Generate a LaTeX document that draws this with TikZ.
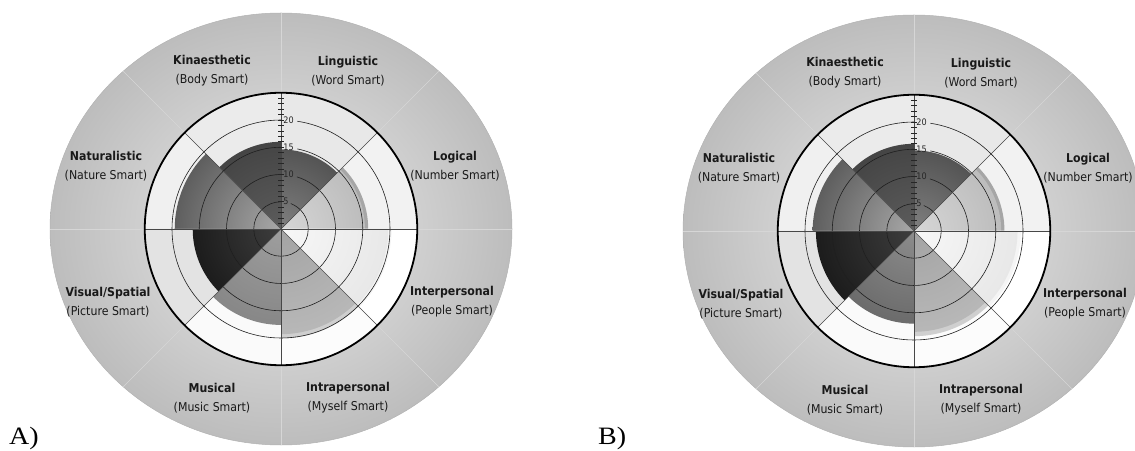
\documentclass[tikz,border=0pt]{standalone}
\usepackage{fontspec}
\setmainfont{DejaVu Sans}
\newfontfamily\labelfont[FakeStretch=0.9]{DejaVu Sans}
\newfontfamily\panelfont{Liberation Serif}

\tikzset{
  catlabel/.style={font=\labelfont\fontsize{12.2}{19}\selectfont, align=center, text=black!90, inner sep=0pt},
  ticklabel/.style={font=\labelfont\fontsize{9}{9}\selectfont, anchor=west, inner sep=0pt, text=black!85},
  gridline/.style={draw=black!88, line width=0.6pt},
  spoke/.style={draw=black!72, line width=0.6pt},
  tickline/.style={draw=black!85, line width=0.6pt},
  rimline/.style={draw=black, line width=1.8pt},
  sepline/.style={draw=white!84!black, line width=0.6pt},
  panellabel/.style={font=\panelfont\fontsize{25}{27}\selectfont, anchor=base west, inner sep=0pt, xscale=1.12},
}

% #1 centre, #2 name prefix, #3 sector data: start/value/rim/inner/outer/band/rimcolour
\newcommand\wheelchart[3]{%
\begin{scope}[shift={#1}]
  % outer ring
  \shade[inner color=black!8, outer color=black!26] (0,0) ellipse [x radius=231, y radius=216];
  \draw[black!30, line width=0.5pt] (0,0) ellipse [x radius=231, y radius=216];
  \begin{scope}
    \clip (0,0) ellipse [x radius=231, y radius=216];
    \foreach \a in {0,45,...,315}
      \draw[sepline] (\a:137) -- (\a:250);
  \end{scope}
  % sectors
  \foreach \a/\v/\rw/\ci/\co/\bd/\rc in {#3} {
    \fill[\bd] (0,0) -- (\a:136.25) arc[start angle=\a, delta angle=45, radius=136.25] -- cycle;
    \fill[\rc] (0,0) -- (\a:{(\v+\rw)*5.45}) arc[start angle=\a, delta angle=45, radius={(\v+\rw)*5.45}] -- cycle;
    \begin{scope}
      \clip (0,0) -- (\a:{\v*5.45}) arc[start angle=\a, delta angle=45, radius={\v*5.45}] -- cycle;
      \shade[inner color=\ci, outer color=\co] (0,0) circle ({\v*5.45});
    \end{scope}
  }
  % rings with a gap for the scale figures
  \foreach \k/\g in {5/21, 10/17, 15/11.5, 20/8.6}
    \draw[gridline] (90:{\k*5.45}) arc[start angle=90, end angle={450-\g}, radius={\k*5.45}];
  % spokes
  \foreach \a in {0,45,90,135}
    \draw[spoke] (\a:136.25) -- (\a+180:136.25);
  % scale ticks and figures
  \foreach \k in {1,...,25}
    \draw[tickline] ({-2.8},{\k*5.45}) -- ({2.8},{\k*5.45});
  \foreach \k in {5,10,15,20}
    \node[ticklabel] (#2-tick\k) at (2.2,{\k*5.45}) {\k};
  \draw[rimline] (0,0) circle (136.25);
  % category labels
  \foreach \nm/\x/\y/\t/\s in {
      kin/-69/158/{Kinaesthetic}/{Body Smart},
      lin/67/158/{Linguistic}/{Word Smart},
      log/174/63/{Logical}/{Number Smart},
      inter/171/-73/{Interpersonal}/{People Smart},
      nat/-175/63/{Naturalistic}/{Nature Smart},
      vis/-173/-73/{Visual/Spatial}/{Picture Smart},
      mus/-69/-169/{Musical}/{Music Smart},
      intra/67/-169/{Intrapersonal}/{Myself Smart}}
    \node[catlabel] (#2-\nm) at (\x,\y) {\textbf{\t}\\(\s)};
\end{scope}}

\begin{document}
\begin{tikzpicture}[x=1pt,y=1pt]
  \useasboundingbox (0,0) rectangle (1135,450);
  \clip (0,0) rectangle (1135,450);

  \wheelchart{(281,221)}{A}{
    0/15.4/0.6/black!16/black!26/black!5/black!35,
    45/14.6/0/black!50/black!67/black!9/black!9,
    90/16/0/black!64/black!73/black!8/black!8,
    135/19.5/0/black!34/black!63/black!6/black!6,
    180/16.2/0/black!76/black!89/black!11/black!11,
    225/17.6/0/black!38/black!47/black!2/black!2,
    270/19.3/0.8/black!36/black!28/black!1/black!19,
    315/19.7/0.6/black!3/black!9/white/black!4}

  \wheelchart{(914,219)}{B}{
    0/16.0/0.6/black!16/black!26/black!5/black!35,
    45/14.8/0/black!50/black!67/black!9/black!9,
    90/16/0/black!64/black!73/black!8/black!8,
    135/18.6/0/black!34/black!63/black!6/black!6,
    180/18/0/black!76/black!89/black!11/black!11,
    225/17/0/black!45/black!58/black!2/black!2,
    270/18.5/0.8/black!36/black!28/black!1/black!19,
    315/19/0.6/black!3/black!9/white/black!4}

  \node[panellabel] (panelA) at (9,6) {A)};
  \node[panellabel] (panelB) at (598,6) {B)};
\end{tikzpicture}
\end{document}
